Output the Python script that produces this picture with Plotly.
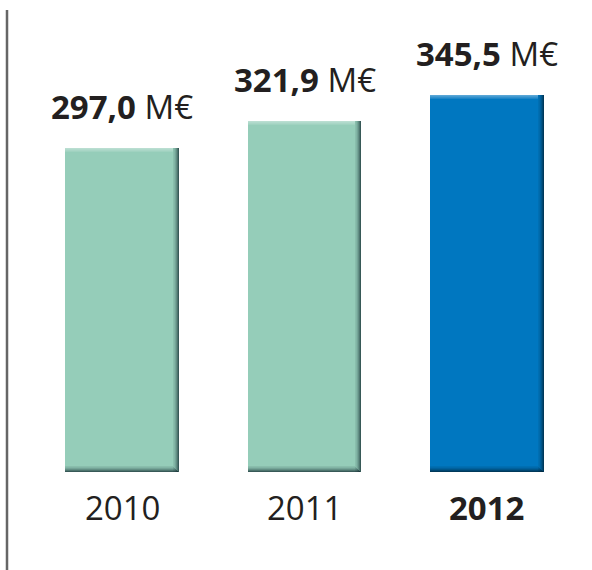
import plotly.graph_objects as go

years = ["2010", "2011", "2012"]
values = [297.0, 321.9, 345.5]
bold_year = [False, False, True]
colors = ["#95cdb9", "#95cdb9", "#0077c0"]

W, H = 592, 570
ml, mr, mt, mb = 31, 14, 36, 98
ymax = 400.0
plot_w = W - ml - mr
plot_h = H - mt - mb
px_x = plot_w / len(years)      # px per category
px_y = plot_h / ymax            # px per value unit
bw = 0.625
xi = list(range(len(years)))

fig = go.Figure()
# main bars
fig.add_trace(go.Bar(x=xi, y=values, width=bw, marker=dict(color=colors, line=dict(width=0)),
                     hoverinfo="skip", showlegend=False))

# bevel: right edge dark gradient
n = 6
for i in range(n):
    w = 1.0 / px_x
    off = bw / 2 - (n - i) * w
    a = 0.08 + 0.55 * (i / (n - 1)) ** 1.5
    fig.add_trace(go.Bar(x=xi, y=values, width=w, offset=off,
                         marker=dict(color=f"rgba(0,20,30,{a:.3f})", line=dict(width=0)),
                         hoverinfo="skip", showlegend=False))
# bottom dark gradient
for i in range(n):
    h = 1.0 / px_y
    base = (n - 1 - i) * h
    a = 0.08 + 0.55 * (i / (n - 1)) ** 1.5
    fig.add_trace(go.Bar(x=xi, y=[h] * len(values), base=[base] * len(values), width=bw - (n - i) / px_x, offset=-bw / 2,
                         marker=dict(color=f"rgba(0,20,30,{a:.3f})", line=dict(width=0)),
                         hoverinfo="skip", showlegend=False))
# top highlight
for i in range(4):
    h = 1.0 / px_y
    a = 0.35 - 0.08 * i
    fig.add_trace(go.Bar(x=xi, y=[h] * len(values), base=[v - (i + 1) * h for v in values],
                         width=bw - 6 / px_x, offset=-bw / 2,
                         marker=dict(color=f"rgba(255,255,255,{a:.3f})", line=dict(width=0)),
                         hoverinfo="skip", showlegend=False))

font_fam = "Open Sans"
txt_col = "#231f20"
for i, v in zip(xi, values):
    s = f"{v:.1f}".replace(".", ",")
    fig.add_annotation(x=i, y=v, text=f"<b>{s}</b> M€", showarrow=False, yanchor="bottom",
                       yshift=17, font=dict(family=font_fam, size=33, color=txt_col))
for i, yr, b in zip(xi, years, bold_year):
    t = f"<b>{yr}</b>" if b else yr
    fig.add_annotation(x=i, y=0, text=t, showarrow=False, yanchor="top",
                       yshift=-11, font=dict(family=font_fam, size=33, color=txt_col))

# left vertical rule
fig.add_shape(type="line", xref="paper", yref="paper",
              x0=(7 - ml) / plot_w, x1=(7 - ml) / plot_w,
              y0=-(H - (mt + plot_h)) / plot_h, y1=(mt + plot_h - 10) / plot_h,
              line=dict(color="#666666", width=2.5))

fig.update_layout(
    width=W, height=H, margin=dict(l=ml, r=mr, t=mt, b=mb),
    barmode="overlay", bargap=0,
    paper_bgcolor="white", plot_bgcolor="white",
    xaxis=dict(range=[-0.5, 2.5], showticklabels=False, showgrid=False, zeroline=False, showline=False, fixedrange=True),
    yaxis=dict(range=[0, ymax], visible=False, fixedrange=True),
    showlegend=False,
    hovermode=False,
)
fig.write_html("out.html", config={"displayModeBar": False, "staticPlot": True},
               post_script="document.body.style.margin='0';document.body.style.overflow='hidden';")
